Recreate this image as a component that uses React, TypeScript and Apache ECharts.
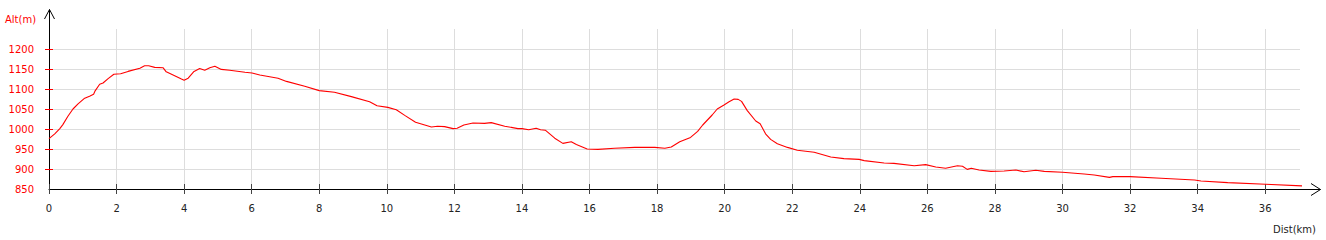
import React, { useEffect, useRef } from "react";
import * as echarts from "echarts";

const distKm = [
  0, 0.17, 0.32, 0.41, 0.56, 0.71, 0.86, 1.04, 1.2, 1.32, 1.37, 1.5, 1.6, 1.75, 1.92, 2.12, 2.34, 2.69, 2.83, 2.95,
  3.13, 3.38, 3.47, 3.72, 3.92, 4.0, 4.12, 4.28, 4.46, 4.61, 4.76, 4.91, 5.1, 5.35, 5.8, 6.01, 6.24, 6.78, 7.03, 7.57,
  8.0, 8.45, 8.95, 9.49, 9.71, 10.03, 10.28, 10.53, 10.85, 11.32, 11.5, 11.71, 11.96, 12.08, 12.28, 12.55, 12.89, 13.09,
  13.49, 13.88, 14.0, 14.2, 14.42, 14.55, 14.69, 14.97, 15.21, 15.46, 15.61, 15.93, 16.25, 16.74, 17.34, 17.93, 18.23,
  18.42, 18.67, 18.99, 19.2, 19.35, 19.63, 19.78, 19.98, 20.13, 20.28, 20.4, 20.5, 20.67, 20.92, 21.05, 21.21, 21.36,
  21.56, 21.86, 22.15, 22.65, 23.14, 23.53, 23.98, 24.13, 24.72, 25.01, 25.61, 25.95, 26.25, 26.54, 26.89, 27.04, 27.18,
  27.3, 27.53, 27.88, 28.27, 28.62, 28.86, 29.21, 29.46, 30.0, 30.64, 30.94, 31.39, 31.49, 32.0, 32.92, 33.91, 34.1,
  34.89, 36.01, 37.16,
];

const altM = [
  976, 988, 1001, 1011, 1032, 1050, 1063, 1076, 1082, 1087, 1096, 1112, 1115, 1126, 1137, 1138, 1144, 1152, 1158, 1158,
  1154, 1153, 1143, 1133, 1125, 1122, 1127, 1143, 1151, 1147, 1153, 1157, 1149, 1147, 1142, 1140, 1135, 1127, 1119, 1107,
  1096, 1092, 1081, 1068, 1058, 1054, 1048, 1034, 1017, 1005, 1007, 1006, 1001, 1002, 1010, 1015, 1014, 1016,
  1007, 1001, 1001, 998, 1002, 998, 997, 977, 964, 968, 961, 950, 949, 952, 954, 954, 952,
  955, 968, 979, 994, 1010, 1035, 1050, 1060, 1068, 1075, 1074, 1069, 1046, 1020, 1013, 988, 974,
  963, 954, 947, 942, 930, 926, 924, 921, 915, 914, 908, 911, 905, 902, 908, 907, 899,
  902, 897.5, 894, 895, 897.5, 893, 897, 894, 892, 887.5, 885, 879, 881, 881, 877, 872.5, 870,
  866, 862, 857.5,
];

const xTicks = [0, 2, 4, 6, 8, 10, 12, 14, 16, 18, 20, 22, 24, 26, 28, 30, 32, 34, 36];
const yTicks = [900, 950, 1000, 1050, 1100, 1150, 1200];
const yLabels = [850, 900, 950, 1000, 1050, 1100, 1150, 1200];

const X_MIN = 0;
const X_MAX = 37.03;
const Y_MIN = 850;
const Y_MAX = 1250;

const GRID_LEFT = 49;
const GRID_RIGHT = 26;
const GRID_TOP = 29;
const GRID_BOTTOM = 51;
const W = 1326;
const H = 240;

const FONT = "DejaVu Sans";

export default function App() {
  const ref = useRef<HTMLDivElement>(null);

  useEffect(() => {
    if (!ref.current) return;
    const chart = echarts.init(ref.current, null, { renderer: "svg" });
    const data = distKm.map((d, i) => [d, altM[i]]);
    const axisX = GRID_LEFT + 0.5;
    const axisY = H - GRID_BOTTOM + 0.5;
    const rightEnd = W - GRID_RIGHT;
    const plain = (v: number) => String(v);

    const baseX = {
      type: "value",
      min: X_MIN,
      max: X_MAX,
      position: "bottom",
    };
    const baseY = {
      type: "value",
      min: Y_MIN,
      max: Y_MAX,
      position: "left",
    };

    chart.setOption({
      animation: false,
      backgroundColor: "#ffffff",
      grid: { left: GRID_LEFT, right: GRID_RIGHT, top: GRID_TOP, bottom: GRID_BOTTOM, containLabel: false },
      xAxis: [
        {
          ...baseX,
          axisLine: { show: true, onZero: false, lineStyle: { color: "#000", width: 1 } },
          axisTick: { show: true, inside: false, length: 5, customValues: xTicks, lineStyle: { color: "#444", width: 1 } },
          axisLabel: {
            show: true,
            customValues: xTicks,
            formatter: plain,
            margin: 14,
            color: "#222",
            fontFamily: FONT,
            fontSize: 10,
          },
          splitLine: { show: true, lineStyle: { color: "#dddddd", width: 1 } },
        },
        {
          ...baseX,
          axisLine: { show: false },
          axisTick: { show: true, inside: true, length: 5, customValues: xTicks, lineStyle: { color: "#444", width: 1 } },
          axisLabel: { show: false },
          splitLine: { show: false },
        },
      ],
      yAxis: [
        {
          ...baseY,
          axisLine: { show: true, onZero: false, lineStyle: { color: "#000", width: 1 } },
          axisTick: { show: true, inside: false, length: 4, customValues: yTicks, lineStyle: { color: "#ff0000", width: 1 } },
          axisLabel: {
            show: true,
            customValues: yLabels,
            formatter: plain,
            margin: 15,
            color: "#ff0000",
            fontFamily: FONT,
            fontSize: 10,
          },
          splitLine: { show: true, lineStyle: { color: "#dddddd", width: 1 } },
        },
        {
          ...baseY,
          axisLine: { show: false },
          axisTick: { show: true, inside: true, length: 4, customValues: yTicks, lineStyle: { color: "#ff0000", width: 1 } },
          axisLabel: { show: false },
          splitLine: { show: false },
        },
      ],
      series: [
        {
          type: "line",
          xAxisIndex: 0,
          yAxisIndex: 0,
          data,
          clip: false,
          showSymbol: false,
          symbol: "none",
          smooth: false,
          lineStyle: { color: "#ff0000", width: 1.1 },
        },
      ],
      graphic: [
        {
          type: "line",
          shape: { x1: axisX, y1: GRID_TOP, x2: axisX, y2: 9.5 },
          style: { stroke: "#000", lineWidth: 1 },
        },
        {
          type: "polyline",
          shape: { points: [[axisX - 5, 19], [axisX, 9.5], [axisX + 5, 19]] },
          style: { stroke: "#000", lineWidth: 1, fill: null },
        },
        {
          type: "line",
          shape: { x1: rightEnd, y1: axisY, x2: 1320.5, y2: axisY },
          style: { stroke: "#000", lineWidth: 1 },
        },
        {
          type: "polyline",
          shape: { points: [[1311, axisY - 6], [1320.5, axisY], [1311, axisY + 6]] },
          style: { stroke: "#000", lineWidth: 1, fill: null },
        },
        {
          type: "text",
          x: 5,
          y: 19,
          style: {
            text: "Alt(m)",
            fill: "#ff0000",
            font: `10px '${FONT}'`,
            textAlign: "left",
            textVerticalAlign: "middle",
          },
        },
        {
          type: "text",
          x: 1316,
          y: 229,
          style: {
            text: "Dist(km)",
            fill: "#222",
            font: `10px '${FONT}'`,
            textAlign: "right",
            textVerticalAlign: "middle",
          },
        },
      ],
    });

    return () => chart.dispose();
  }, []);

  return (
    <div
      ref={ref}
      style={{ position: "fixed", left: 0, top: 0, width: W, height: H, background: "#fff" }}
    />
  );
}
